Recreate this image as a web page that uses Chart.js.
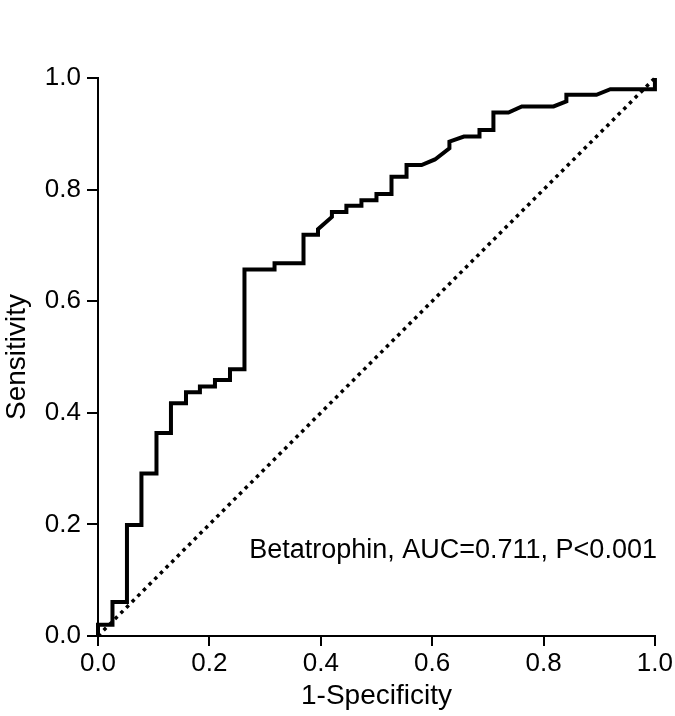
<!DOCTYPE html>
<html>
<head>
<meta charset="utf-8">
<script src="https://cdnjs.cloudflare.com/ajax/libs/Chart.js/4.4.1/chart.umd.min.js"></script>
<style>
  html, body { margin: 0; padding: 0; background: #fff; }
  #wrap { width: 675px; height: 716px; }
</style>
</head>
<body>
<div id="wrap"><canvas id="roc" width="675" height="716"></canvas></div>
<script>
// ROC curve corners
const fpr = [0, 0, 0.026, 0.026, 0.052, 0.052, 0.078, 0.078, 0.105, 0.105,
    0.131, 0.131, 0.158, 0.158, 0.183, 0.183, 0.21, 0.21, 0.237, 0.237,
    0.263, 0.263, 0.317, 0.317, 0.369, 0.369, 0.395, 0.395, 0.42, 0.42,
    0.446, 0.446, 0.473, 0.473, 0.5, 0.5, 0.527, 0.527, 0.554, 0.554,
    0.581, 0.605, 0.631, 0.631, 0.657, 0.685, 0.685, 0.71, 0.71, 0.737,
    0.761, 0.818, 0.841, 0.841, 0.895, 0.92, 1.0, 1.0];
const sens = [0, 0.02, 0.02, 0.061, 0.061, 0.199, 0.199, 0.291, 0.291, 0.364,
    0.364, 0.417, 0.417, 0.437, 0.437, 0.447, 0.447, 0.459, 0.459, 0.478,
    0.478, 0.657, 0.657, 0.668, 0.668, 0.719, 0.719, 0.729, 0.751, 0.76,
    0.76, 0.771, 0.771, 0.781, 0.781, 0.792, 0.792, 0.823, 0.823, 0.844,
    0.844, 0.854, 0.874, 0.886, 0.895, 0.895, 0.907, 0.907, 0.938, 0.938,
    0.949, 0.949, 0.958, 0.97, 0.97, 0.98, 0.98, 1.0];
const refX = [0, 1];
const refY = [0, 1];
const axisTicks = [0, 0.2, 0.4, 0.6, 0.8, 1.0];
const label = 'Betatrophin, AUC=0.711, P<0.001';

const FONT = "'Liberation Sans', Arial, Helvetica, sans-serif";

// annotation text in the lower right of the plot
const textPlugin = {
    id: 'aucText',
    afterDatasetsDraw(chart) {
        const ctx = chart.ctx;
        const y = chart.scales.y.getPixelForValue(0.14);
        ctx.save();
        ctx.font = '27px ' + FONT;
        ctx.fillStyle = '#000';
        ctx.textAlign = 'right';
        ctx.textBaseline = 'alphabetic';
        ctx.fillText(label, chart.chartArea.right + 2, y);
        ctx.restore();
    }
};

new Chart(document.getElementById('roc'), {
    type: 'scatter',
    data: {
        datasets: [
            {
                label: 'ROC',
                data: fpr.map((v, i) => ({ x: v, y: sens[i] })),
                showLine: true,
                borderColor: '#000',
                borderWidth: 4,
                borderJoinStyle: 'miter',
                borderCapStyle: 'butt',
                pointRadius: 0,
                fill: false,
                clip: false
            },
            {
                label: 'Reference',
                data: refX.map((v, i) => ({ x: v, y: refY[i] })),
                showLine: true,
                borderColor: '#000',
                borderWidth: 3.5,
                borderDash: [3.5, 4.5],
                pointRadius: 0,
                fill: false,
                clip: false
            }
        ]
    },
    options: {
        responsive: false,
        animation: false,
        devicePixelRatio: 1,
        layout: { padding: { top: 78, right: 20, left: 0, bottom: 0 } },
        plugins: {
            legend: { display: false },
            tooltip: { enabled: false }
        },
        scales: {
            x: {
                type: 'linear',
                min: 0,
                max: 1,
                afterBuildTicks: (scale) => { scale.ticks = axisTicks.map(v => ({ value: v })); },
                afterFit: (scale) => { scale.height = 80; },
                border: { color: '#000', width: 2 },
                grid: { drawOnChartArea: false, drawTicks: true, tickLength: 10, color: '#000', lineWidth: 2 },
                ticks: {
                    color: '#000',
                    font: { family: FONT, size: 26 },
                    padding: 2,
                    maxRotation: 0,
                    callback: (v) => Number(v).toFixed(1)
                },
                title: {
                    display: true,
                    text: '1-Specificity',
                    color: '#000',
                    font: { family: FONT, size: 28 },
                    padding: { top: 0, bottom: 3 }
                }
            },
            y: {
                type: 'linear',
                min: 0,
                max: 1,
                afterBuildTicks: (scale) => { scale.ticks = axisTicks.map(v => ({ value: v })); },
                afterFit: (scale) => { scale.width = 98; },
                border: { color: '#000', width: 2 },
                grid: { drawOnChartArea: false, drawTicks: true, tickLength: 11, color: '#000', lineWidth: 2 },
                ticks: {
                    color: '#000',
                    font: { family: FONT, size: 26 },
                    padding: 6,
                    callback: (v) => Number(v).toFixed(1)
                },
                title: {
                    display: true,
                    text: 'Sensitivity',
                    color: '#000',
                    font: { family: FONT, size: 28 },
                    padding: { top: 0, bottom: 0 }
                }
            }
        }
    },
    plugins: [textPlugin]
});
</script>
</body>
</html>
